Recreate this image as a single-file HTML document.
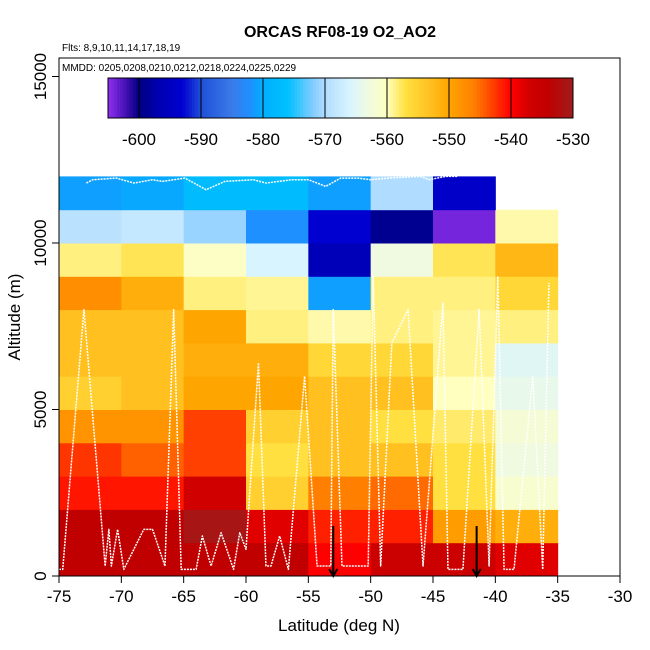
<!DOCTYPE html>
<html><head><meta charset="utf-8">
<style>
html,body{margin:0;padding:0;background:#fff;}
svg{display:block;font-family:"Liberation Sans",Arial,sans-serif;}
</style></head>
<body>
<svg id="chart" width="650" height="650" viewBox="0 0 650 650">
  <text x="340" y="37" text-anchor="middle" font-size="16" font-weight="bold">ORCAS RF08-19 O2_AO2</text>
  <text x="62" y="51" font-size="10">Flts: 8,9,10,11,14,17,18,19</text>
  <g id="cells"></g>
  <g id="tracks"></g>
  <g id="arrows"></g>
  <rect x="59" y="58" width="561" height="518" fill="none" stroke="#000" stroke-width="1"/>
  <text x="62" y="71" font-size="10">MMDD: 0205,0208,0210,0212,0218,0224,0225,0229</text>
  <g id="cbar"></g>
  <g id="xaxis"></g>
  <g id="yaxis"></g>
  <text x="339" y="631" text-anchor="middle" font-size="17">Latitude (deg N)</text>
  <text transform="translate(20,317) rotate(-90)" text-anchor="middle" font-size="17">Altitude (m)</text>
</svg>
<script>
const latBins = [-75,-70,-65,-60,-55,-50,-45,-40];
const altBins = [0,1000,2000,3000,4000,5000,6000,7000,8000,9000,10000,11000];
// rows bottom->top, columns -75..-40 ; null = no data
const values = [
  [-534,-534,-534,-534,-540,-536,-536,-538],
  [-534,-534,-531,-538,-541.5,-541.5,-549,-551],
  [-541,-541,-537,-555,-546,-545,-557,-561.5],
  [-542.5,-544.5,-543,-557,-553,-553,-557,-563],
  [-548,-548,-543,-555,-553,-557,-558,-562],
  [-555,-553,-550,-550,-553,-553,-560,-564],
  [-553,-553,-551,-551,-556,-556,-559,-565],
  [-553,-553,-550,-558.5,-559.5,-558.5,-559,-558.5],
  [-547.5,-551,-558.5,-559,-581,-558.5,-558.5,-556],
  [-558.5,-557.5,-560.5,-566,-596,-563,-557.5,-552],
  [-569,-568,-571,-582,-593,-599,-604,-559.5],
  [-581,-580.5,-577,-577,-581,-570,-594,null]
];
const cbarTicks = [-600,-590,-580,-570,-560,-550,-540,-530];
const xTicks = [-75,-70,-65,-60,-55,-50,-45,-40,-35,-30];
const yTicks = [0,5000,10000,15000];
const arrowLats = [-53,-41.5];
const trackLat = [-75,-74.7,-73,-71.3,-71,-70.8,-70.3,-69.8,-68.2,-67.5,-66.5,-65.8,-65.2,-64,-63.5,-62.8,-62,-61,-60.5,-60,-59,-58.4,-58,-57.3,-56.6,-55.3,-54.3,-53.2,-53,-52.3,-50.2,-49.8,-49.2,-48.3,-47,-45.8,-44.2,-43.8,-42.6,-41.3,-40.5,-39.8,-39.3,-38.5,-37,-36.2,-35.7];
const trackAlt = [200,200,8000,300,1400,300,1400,200,1400,1400,300,8000,200,200,1200,300,1300,200,1300,800,6400,300,300,1200,200,6000,300,300,8000,300,300,9000,300,7000,8000,300,8200,200,200,8000,300,9000,200,200,6000,200,8800];
const trackLat2 = [-72.8,-72.3,-70.4,-69,-67.5,-66.7,-64.9,-63.2,-61.7,-59.4,-58.4,-56.3,-55,-53.6,-52.4,-51,-50,-48.6,-46,-45.3,-44,-43];
const trackAlt2 = [11800,11900,11950,11800,11900,11850,11950,11600,11850,11900,11800,11900,11900,11700,11950,11950,11900,11950,12000,11900,12000,12000];

const X = v => 59 + (v + 75) * (561 / 45);
const Y = v => 576 - v * (166.5 / 5000);

const stops = [[-605,'#9030f0'],[-602,'#4010b0'],[-600,'#000080'],[-597,'#0000b0'],[-593,'#0000d0'],[-590,'#2050d8'],[-585,'#3a7be8'],[-582,'#1e90ff'],[-580,'#00b0ff'],[-576,'#00c0ff'],[-572,'#80ccff'],[-570,'#b0dcff'],[-566,'#d8f4ff'],[-563,'#f0fae0'],[-560,'#ffffc0'],[-557,'#ffe040'],[-553,'#ffc020'],[-550,'#ffa500'],[-546,'#ff8000'],[-543,'#ff4000'],[-540,'#ff0000'],[-537,'#d00000'],[-534,'#c00000'],[-530,'#a01c1c']];
function hx(c){return [1,3,5].map(i=>parseInt(c.substr(i,2),16));}
function col(v){
  if(v<=stops[0][0]) return stops[0][1];
  for(let i=1;i<stops.length;i++){
    if(v<=stops[i][0]){
      const t=(v-stops[i-1][0])/(stops[i][0]-stops[i-1][0]);
      const a=hx(stops[i-1][1]),b=hx(stops[i][1]);
      return 'rgb('+a.map((x,k)=>Math.round(x+(b[k]-x)*t)).join(',')+')';
    }
  }
  return stops[stops.length-1][1];
}
const NS='http://www.w3.org/2000/svg';
function mk(tag,attrs,parent){const e=document.createElementNS(NS,tag);for(const k in attrs)e.setAttribute(k,attrs[k]);parent.appendChild(e);return e;}

const cells=document.getElementById('cells');
values.forEach((row,r)=>row.forEach((v,c)=>{
  if(v===null) return;
  const x0=X(latBins[c]), x1=X(latBins[c]+5), y0=Y(altBins[r]+1000), y1=Y(altBins[r]);
  const e=mk('rect',{x:x0,y:y0,width:x1-x0+0.5,height:y1-y0+0.5,fill:col(v)},cells);
  
  
}));

const tr=document.getElementById('tracks');
[[trackLat,trackAlt],[trackLat2,trackAlt2]].forEach(([la,al])=>{
  const p=mk('polyline',{points:la.map((v,i)=>X(v)+','+Y(al[i])).join(' '),fill:'none',stroke:'#fff','stroke-width':1.5,'stroke-dasharray':'2,1','stroke-linejoin':'round'},tr);
  
  
});

const ar=document.getElementById('arrows');
arrowLats.forEach(l=>{
  const g=mk('g',{},ar);
  
  
  mk('line',{x1:X(l),y1:Y(1500),x2:X(l),y2:Y(0),stroke:'#000','stroke-width':2},g);
  mk('polyline',{points:(X(l)-4)+','+(Y(0)-7)+' '+X(l)+','+Y(0)+' '+(X(l)+4)+','+(Y(0)-7),fill:'none',stroke:'#000','stroke-width':2},g);
});

// colorbar
const cb=document.getElementById('cbar');
const CX=v=>139+(v+600)*6.2;
for(let v=-605;v<-530;v+=0.5){
  mk('rect',{x:CX(v),y:78,width:3.6,height:40,fill:col(v+0.25)},cb);
}
mk('rect',{x:CX(-605),y:78,width:CX(-530)-CX(-605),height:40,fill:'none',stroke:'#000','stroke-width':1},cb);
cbarTicks.forEach(t=>{
  mk('line',{x1:CX(t),y1:78,x2:CX(t),y2:118,stroke:'#000','stroke-width':1},cb);
  const e=mk('text',{x:CX(t),y:145,'text-anchor':'middle','font-size':17},cb);
  e.textContent=t;
  
  
});

const xa=document.getElementById('xaxis');
mk('line',{x1:X(-75),y1:576,x2:X(-30),y2:576,stroke:'#000'},xa);
xTicks.forEach(t=>{
  mk('line',{x1:X(t),y1:576,x2:X(t),y2:583,stroke:'#000'},xa);
  const e=mk('text',{x:X(t),y:602,'text-anchor':'middle','font-size':17},xa);
  e.textContent=t;
  
  
});
const ya=document.getElementById('yaxis');
mk('line',{x1:59,y1:Y(0),x2:59,y2:Y(15000),stroke:'#000'},ya);
yTicks.forEach(t=>{
  mk('line',{x1:52,y1:Y(t),x2:59,y2:Y(t),stroke:'#000'},ya);
  const e=mk('text',{transform:'translate(46,'+Y(t)+') rotate(-90)','text-anchor':'middle','font-size':17},ya);
  e.textContent=t;
  
  
});
</script>
</body></html>
